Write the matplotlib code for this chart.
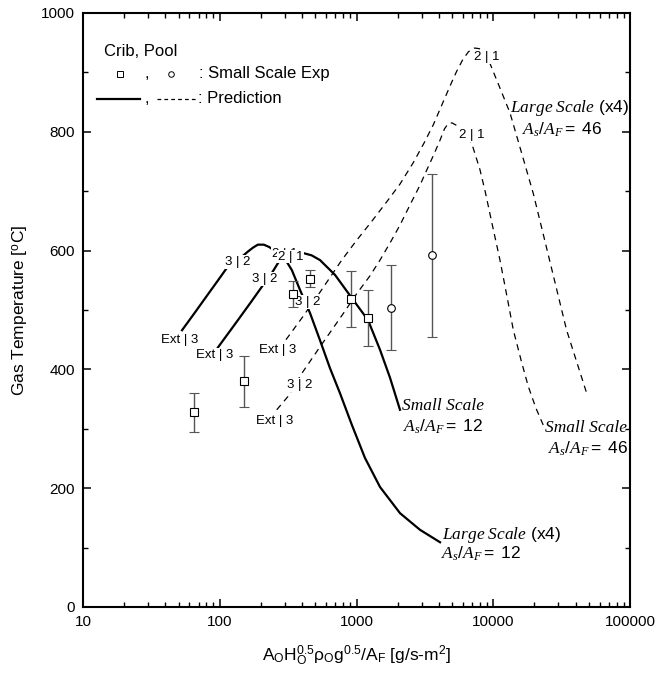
import numpy as np
import matplotlib.pyplot as plt
from matplotlib.ticker import LogLocator, NullFormatter, MultipleLocator, FixedLocator, FixedFormatter

plt.rcParams['font.family'] = 'Liberation Sans'
plt.rcParams['mathtext.fontset'] = 'custom'
plt.rcParams['mathtext.rm'] = 'Liberation Sans'
plt.rcParams['mathtext.it'] = 'Liberation Serif:italic'
plt.rcParams['mathtext.bf'] = 'Liberation Sans:bold'

# experiment data (crib = squares, pool = circles)
crib_x = [65, 151, 341, 455, 912, 1208]
crib_y = [328, 380, 527, 553, 518, 486]
crib_err = [33, 43, 22, 14, 47, 47]

pool_x = [1800, 3550]
pool_y = [504, 592]
pool_err = [71, 137]

# predictions, crib (solid)
small12_x = [53, 65, 80, 100, 112, 136, 160, 175, 190, 210, 230, 250, 270, 330, 406, 470, 541, 697, 912, 1214, 1486, 1758, 2080]
small12_y = [466, 494, 523, 554, 570, 584, 598, 605, 610, 610, 606, 600, 597, 595, 596, 592, 584, 559, 522, 483, 433, 386, 332]

large12_x = [97, 130, 170, 203, 240, 265, 283, 300, 337, 386, 457, 541, 640, 757, 927, 1153, 1486, 2080, 2911, 4083]
large12_y = [437, 477, 514, 539, 562, 578, 588, 586, 567, 534, 495, 449, 402, 360, 306, 251, 202, 158, 130, 109]

# predictions, pool (dashed)
large46_x = [305, 400, 541, 780, 1000, 1300, 1700, 2080, 2600, 3100, 3648, 4390, 5000, 5406, 6000, 6600, 7300, 7900, 8600,
             9460, 11000, 13250, 16000, 19630, 26000, 34400, 48200]
large46_y = [450, 487, 530, 584, 617, 650, 685, 712, 748, 780, 812, 855, 885, 902, 922, 935, 941, 940, 931,
             915, 878, 832, 767, 696, 581, 466, 360]

small46_x = [261, 317, 400, 541, 800, 1000, 1250, 1486, 1800, 2080, 2500, 2911, 3300, 3648, 4083, 4400, 4690, 5000, 5560,
             6200, 6950, 8000, 8720, 10000, 11200, 12500, 14030, 16000, 18000, 20500, 23240]
small46_y = [332, 355, 394, 438, 494, 527, 557, 584, 617, 643, 680, 710, 738, 760, 786, 805, 814, 815, 809,
             797, 781, 736, 700, 636, 584, 527, 466, 415, 372, 335, 306]

# regime labels on the curves: (x, y, text)
regime_labels = [
    (51, 449, 'Ext | 3'), (136, 581, '3 | 2'), (300, 594, '2 | 1'),
    (92, 424, 'Ext | 3'), (214, 552, '3 | 2'), (330, 590, '2 | 1'), (441, 513, '3 | 2'),
    (267, 433, 'Ext | 3'), (9000, 926, '2 | 1'),
    (254, 313, 'Ext | 3'), (386, 374, '3 | 2'), (7000, 795, '2 | 1'),
]

fig = plt.figure(figsize=(6.6, 6.73), dpi=100)
ax = fig.add_axes([83/660, 66/673, 547/660, 594/673])

ax.plot(small12_x, small12_y, 'k-', lw=1.6)
ax.plot(large12_x, large12_y, 'k-', lw=1.6)
ax.plot(large46_x, large46_y, color='k', lw=0.9, linestyle=(0, (5, 4)))
ax.plot(small46_x, small46_y, color='k', lw=0.9, linestyle=(0, (5, 4)))

ax.errorbar(crib_x, crib_y, yerr=crib_err, fmt='s', ms=5.5, mfc='white', mec='black', mew=0.8,
            ecolor='#555555', elinewidth=1.0, capsize=3.3, capthick=1.0, zorder=5)
ax.errorbar(pool_x, pool_y, yerr=pool_err, fmt='o', ms=5.5, mfc='white', mec='black', mew=0.8,
            ecolor='#555555', elinewidth=1.0, capsize=3.3, capthick=1.0, zorder=5)

for x, y, s in regime_labels:
    ax.text(x, y, s, fontsize=9.5, ha='center', va='center', zorder=4,
            bbox=dict(facecolor='white', edgecolor='none', pad=0.6))

# curve annotations
serif = dict(fontfamily='Liberation Serif', style='italic', fontsize=12.5)
ax.text(13250, 840, r'$\mathit{Large\ Scale}$ (x4)', fontsize=12.5, ha='left', va='center')
ax.text(16200, 803, r'$A_s/A_F =$ 46', fontsize=12.5, ha='left', va='center')
ax.text(2140, 338, 'Small Scale', ha='left', va='center', **serif)
ax.text(2180, 304, r'$A_s/A_F =$ 12', fontsize=12.5, ha='left', va='center')
ax.text(23880, 301, 'Small Scale', ha='left', va='center', **serif)
ax.text(25300, 267, r'$A_s/A_F =$ 46', fontsize=12.5, ha='left', va='center')
ax.text(4200, 121, r'$\mathit{Large\ Scale}$ (x4)', fontsize=12.5, ha='left', va='center')
ax.text(4150, 90, r'$A_s/A_F =$ 12', fontsize=12.5, ha='left', va='center')

# legend drawn by hand
tr = ax.transAxes
ax.text(0.038, 0.936, 'Crib, Pool', fontsize=12, transform=tr, ha='left', va='center')
ax.plot([0.068], [0.898], 's', ms=4, mfc='white', mec='black', mew=0.7, transform=tr, clip_on=False)
ax.text(0.116, 0.898, ',', fontsize=12, transform=tr, ha='center', va='center')
ax.plot([0.161], [0.898], 'o', ms=4, mfc='white', mec='black', mew=0.7, transform=tr, clip_on=False)
ax.text(0.212, 0.898, ': Small Scale Exp', fontsize=12, transform=tr, ha='left', va='center')
ax.plot([0.026, 0.104], [0.856, 0.856], 'k-', lw=1.6, transform=tr)
ax.text(0.116, 0.856, ',', fontsize=12, transform=tr, ha='center', va='center')
ax.plot([0.135, 0.210], [0.856, 0.856], color='k', lw=0.9, linestyle=(0, (3, 2.5)), transform=tr)
ax.text(0.210, 0.856, ': Prediction', fontsize=12, transform=tr, ha='left', va='center')

ax.set_xscale('log')
ax.set_xlim(10, 100000)
ax.set_ylim(0, 1000)
ax.xaxis.set_major_locator(FixedLocator([10, 100, 1000, 10000, 100000]))
ax.xaxis.set_major_formatter(FixedFormatter(['10', '100', '1000', '10000', '100000']))
ax.xaxis.set_minor_locator(LogLocator(base=10, subs=np.arange(2, 10)))
ax.xaxis.set_minor_formatter(NullFormatter())
ax.yaxis.set_major_locator(MultipleLocator(200))
ax.yaxis.set_minor_locator(MultipleLocator(100))

ax.tick_params(which='both', direction='in', top=True, right=True, labelsize=11, pad=6)
ax.tick_params(which='major', length=6, width=1.1)
ax.tick_params(which='minor', length=3.5, width=1.0)
for sp in ax.spines.values():
    sp.set_linewidth(1.5)

ax.set_ylabel(r'Gas Temperature [$^{\mathrm{o}}$C]', fontsize=12.5)
ax.yaxis.set_label_coords(-0.095, 0.5)
ax.set_xlabel(r'A$_{\mathrm{O}}$H$_{\mathrm{O}}^{0.5}$ρ$_{\mathrm{O}}$g$^{0.5}$/A$_{\mathrm{F}}$ [g/s-m$^{2}$]', fontsize=12.5)
ax.xaxis.set_label_coords(0.5, -0.062)

fig.savefig('out.png', dpi=100)
